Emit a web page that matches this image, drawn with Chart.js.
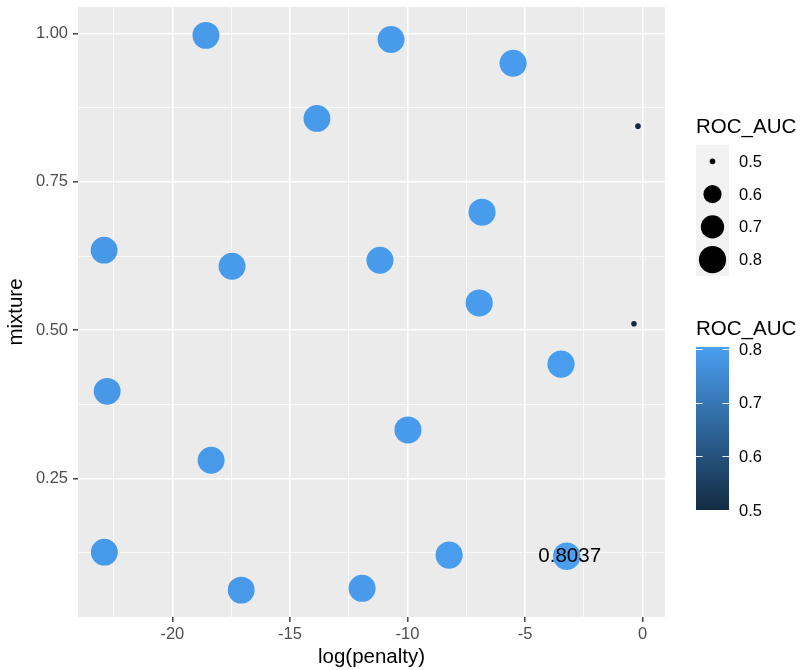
<!DOCTYPE html>
<html>
<head>
<meta charset="utf-8">
<script src="https://cdn.jsdelivr.net/npm/chart.js@4"></script>
<style>
  html, body { margin: 0; padding: 0; background: #ffffff; }
  #wrap { width: 801px; height: 670px; }
</style>
</head>
<body>
<div id="wrap"><canvas id="c" width="801" height="670"></canvas></div>
<script>
// ---- data ----
const penaltyLog = [-18.57, -10.70, -5.51, -13.85, -0.20, -6.83, -22.90, -17.46, -11.17, -6.95,
                    -0.37, -3.47, -22.77, -9.98, -18.35, -22.89, -17.07, -11.93, -8.23, -3.23];
const mixture    = [0.997, 0.990, 0.950, 0.857, 0.844, 0.699, 0.635, 0.608, 0.618, 0.546,
                    0.511, 0.443, 0.397, 0.332, 0.281, 0.126, 0.062, 0.065, 0.121, 0.119];
const rocAuc     = [0.7905, 0.7921, 0.7968, 0.7893, 0.5000, 0.7952, 0.7884, 0.7910, 0.7931, 0.7960,
                    0.5000, 0.7990, 0.7887, 0.7945, 0.7902, 0.7890, 0.7899, 0.7925, 0.7978, 0.8037];
const labelIndex = 19;
const xMajor = [-20, -15, -10, -5, 0];
const xMinor = [-22.5, -17.5, -12.5, -7.5, -2.5];
const yMajor = [0.25, 0.50, 0.75, 1.00];
const yMinor = [0.125, 0.375, 0.625, 0.875];
const legendBreaks = [0.5, 0.6, 0.7, 0.8];

const aucLo = Math.min(...rocAuc), aucHi = Math.max(...rocAuc);
const lowCol = [0x13, 0x2B, 0x43], highCol = [0x4A, 0x9F, 0xF1];
function colorFor(v) {
  const t = Math.max(0, Math.min(1, (v - aucLo) / (aucHi - aucLo)));
  const c = lowCol.map((l, i) => Math.round(l + (highCol[i] - l) * t));
  return `rgb(${c[0]},${c[1]},${c[2]})`;
}
function radiusFor(v) {
  const t = Math.max(0, (v - aucLo) / (aucHi - aucLo));
  return 2.8 + 10.9 * Math.sqrt(t);
}

const FONT = "'Liberation Sans', Arial, Helvetica, sans-serif";

const bgPlugin = {
  id: 'panelBg',
  beforeDraw(chart) {
    const { ctx, chartArea: a } = chart;
    ctx.save();
    ctx.fillStyle = '#EBEBEB';
    ctx.fillRect(a.left, a.top, a.right - a.left, a.bottom - a.top);
    ctx.restore();
  }
};

const overlayPlugin = {
  id: 'overlay',
  afterDatasetsDraw(chart) {
    const { ctx } = chart;
    const xs = chart.scales.x, ys = chart.scales.y;
    ctx.save();
    ctx.font = `20.5px ${FONT}`;
    ctx.fillStyle = '#000000';
    ctx.textAlign = 'center';
    ctx.textBaseline = 'middle';
    ctx.fillText(rocAuc[labelIndex].toFixed(4),
      xs.getPixelForValue(penaltyLog[labelIndex]) + 3,
      ys.getPixelForValue(mixture[labelIndex]));
    ctx.restore();
  },
  afterDraw(chart) {
    const { ctx, chartArea: a } = chart;
    const lx = a.right + 31;
    ctx.save();
    // size legend
    ctx.font = `20.5px ${FONT}`;
    ctx.fillStyle = '#000000';
    ctx.textAlign = 'left';
    ctx.textBaseline = 'middle';
    ctx.fillText('ROC_AUC', lx, 127);
    const keyTop = 145, keyH = 32.75, keyW = 33;
    ctx.fillStyle = '#F2F2F2';
    ctx.fillRect(lx, keyTop, keyW, keyH * legendBreaks.length);
    legendBreaks.forEach((b, i) => {
      const cy = keyTop + keyH * (i + 0.5);
      ctx.beginPath();
      ctx.fillStyle = '#000000';
      ctx.arc(lx + keyW / 2, cy, radiusFor(b), 0, Math.PI * 2);
      ctx.fill();
      ctx.font = `16.5px ${FONT}`;
      ctx.fillText(b.toFixed(1), lx + 43, cy + 1);
    });
    // colour bar legend
    ctx.font = `20.5px ${FONT}`;
    ctx.fillText('ROC_AUC', lx, 329);
    const barTop = 347, barBot = 510, barW = 33;
    const grad = ctx.createLinearGradient(0, barBot, 0, barTop);
    for (let k = 0; k <= 10; k++) {
      const v = aucLo + (aucHi - aucLo) * k / 10;
      grad.addColorStop(k / 10, colorFor(v));
    }
    ctx.fillStyle = grad;
    ctx.fillRect(lx, barTop, barW, barBot - barTop);
    const yOf = v => barBot - (v - aucLo) / (aucHi - aucLo) * (barBot - barTop);
    ctx.strokeStyle = 'rgba(255,255,255,0.9)';
    ctx.lineWidth = 1;
    legendBreaks.forEach(b => {
      const y = Math.round(yOf(b)) + 0.5;
      ctx.beginPath();
      ctx.moveTo(lx, y); ctx.lineTo(lx + 6.6, y);
      ctx.moveTo(lx + barW - 6.6, y); ctx.lineTo(lx + barW, y);
      ctx.stroke();
      ctx.fillStyle = '#000000';
      ctx.font = `16.5px ${FONT}`;
      ctx.fillText(b.toFixed(1), lx + 43, yOf(b) + 1);
    });
    ctx.restore();
  }
};

const majorSet = (arr) => new Set(arr.map(v => v.toFixed(4)));
const xMajSet = majorSet(xMajor), yMajSet = majorSet(yMajor);

new Chart(document.getElementById('c'), {
  type: 'scatter',
  data: {
    datasets: [{
      data: penaltyLog.map((x, i) => ({ x, y: mixture[i] })),
      pointRadius: ctx => radiusFor(rocAuc[ctx.dataIndex]),
      pointHoverRadius: ctx => radiusFor(rocAuc[ctx.dataIndex]),
      pointBackgroundColor: ctx => colorFor(rocAuc[ctx.dataIndex]),
      pointBorderWidth: 0,
      borderWidth: 0,
      clip: false
    }]
  },
  options: {
    responsive: false,
    animation: false,
    events: [],
    layout: { autoPadding: false, padding: { top: 7, right: 136, bottom: 0, left: 0 } },
    plugins: { legend: { display: false }, tooltip: { enabled: false } },
    scales: {
      x: {
        type: 'linear',
        min: -24.01, max: 0.95,
        afterBuildTicks: s => { s.ticks = [...xMinor, ...xMajor].sort((a, b) => a - b).map(v => ({ value: v })); },
        afterFit: s => { s.height = 53; s.paddingLeft = 0; s.paddingRight = 0; },
        border: { display: false },
        grid: {
          color: '#FFFFFF',
          lineWidth: c => (c.tick && xMajSet.has(c.tick.value.toFixed(4))) ? 1.6 : 0.8,
          tickColor: c => (c.tick && xMajSet.has(c.tick.value.toFixed(4))) ? '#333333' : 'rgba(0,0,0,0)',
          tickLength: 5,
          tickWidth: 1.4
        },
        ticks: {
          autoSkip: false, maxRotation: 0, padding: 3,
          color: '#4D4D4D',
          font: { family: FONT, size: 16.5 },
          callback: v => xMajSet.has(Number(v).toFixed(4)) ? String(v) : ''
        },
        title: {
          display: true, text: 'log(penalty)', color: '#000000',
          font: { family: FONT, size: 20.5 }, padding: { top: 0, bottom: 0 }
        }
      },
      y: {
        type: 'linear',
        min: 0.0167, max: 1.0448,
        afterBuildTicks: s => { s.ticks = [...yMinor, ...yMajor].sort((a, b) => a - b).map(v => ({ value: v })); },
        afterFit: s => { s.width = 78; s.paddingTop = 0; s.paddingBottom = 0; },
        border: { display: false },
        grid: {
          color: '#FFFFFF',
          lineWidth: c => (c.tick && yMajSet.has(c.tick.value.toFixed(4))) ? 1.6 : 0.8,
          tickColor: c => (c.tick && yMajSet.has(c.tick.value.toFixed(4))) ? '#333333' : 'rgba(0,0,0,0)',
          tickLength: 5,
          tickWidth: 1.4
        },
        ticks: {
          autoSkip: false, padding: 5,
          color: '#4D4D4D',
          font: { family: FONT, size: 16.5 },
          callback: v => yMajSet.has(Number(v).toFixed(4)) ? Number(v).toFixed(2) : ''
        },
        title: {
          display: true, text: 'mixture', color: '#000000',
          font: { family: FONT, size: 20.5 }, padding: { top: 4, bottom: 0 }
        }
      }
    }
  },
  plugins: [bgPlugin, overlayPlugin]
});
</script>
</body>
</html>
